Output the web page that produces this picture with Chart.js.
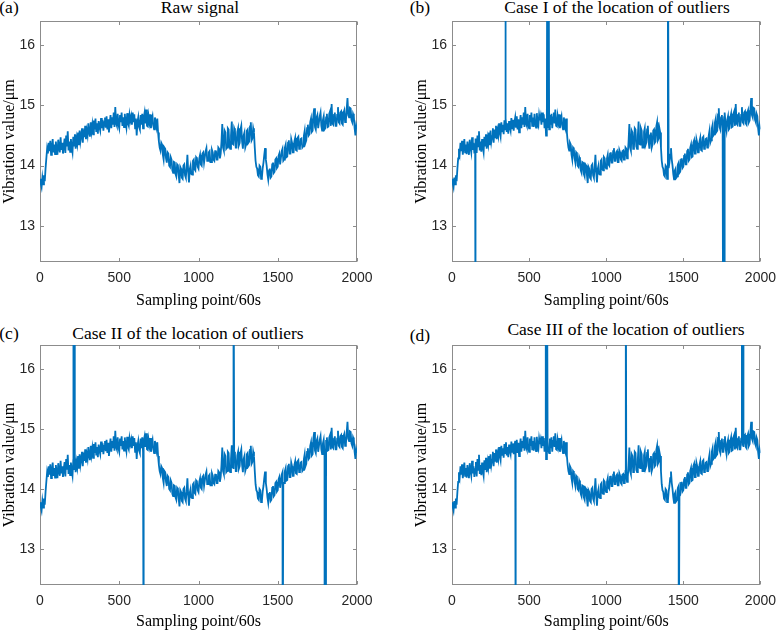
<!DOCTYPE html>
<html>
<head>
<meta charset="utf-8">
<script src="https://cdn.jsdelivr.net/npm/chart.js@4.4.1/dist/chart.umd.min.js"></script>
<style>
body{margin:0;background:#fff;width:784px;height:631px;position:relative;overflow:hidden;font-family:"Liberation Serif","Times New Roman",serif;}
.lbl{position:absolute;font-size:17.5px;color:#000;white-space:nowrap;transform:translate(-50%,-50%);line-height:1}
canvas{position:absolute}
</style>
</head>
<body>
<div class="lbl" style="left:9px;top:8px">(a)</div>
<div class="lbl" style="left:200px;top:8px">Raw signal</div>
<div class="lbl" style="left:420px;top:8px">(b)</div>
<div class="lbl" style="left:617px;top:8px">Case I of the location of outliers</div>
<div class="lbl" style="left:9px;top:334px">(c)</div>
<div class="lbl" style="left:188px;top:334px">Case II of the location of outliers</div>
<div class="lbl" style="left:420px;top:336px">(d)</div>
<div class="lbl" style="left:626px;top:330px">Case III of the location of outliers</div>

<canvas id="chartA" width="392" height="315" style="left:0;top:0"></canvas>
<canvas id="chartB" width="372" height="315" style="left:412px;top:0"></canvas>
<canvas id="chartC" width="392" height="316" style="left:0;top:315px"></canvas>
<canvas id="chartD" width="372" height="316" style="left:412px;top:315px"></canvas>

<script>
// vibration signal, one reading every 5 samples (0 ... 2000)
const sampleStep = 5;
const vibration = [
  13.78, 13.70, 13.64, 13.80, 13.69, 13.84, 13.74, 13.95, 14.12, 14.28,
  14.20, 14.38, 14.24, 14.41, 14.18, 14.30, 14.44, 14.22, 14.35, 14.19,
  14.40, 14.27, 14.18, 14.43, 14.30, 14.22, 14.47, 14.26, 14.38, 14.20,
  14.33, 14.45, 14.21, 14.50, 14.32, 14.57, 14.25, 14.40, 14.23, 14.44,
  14.30, 14.22, 14.48, 14.33, 14.52, 14.28, 14.45, 14.36, 14.55, 14.34,
  14.58, 14.40, 14.49, 14.62, 14.38, 14.60, 14.47, 14.66, 14.44, 14.58,
  14.50, 14.70, 14.55, 14.48, 14.72, 14.57, 14.68, 14.52, 14.75, 14.60,
  14.78, 14.56, 14.70, 14.53, 14.74, 14.64, 14.58, 14.79, 14.62, 14.76,
  14.58, 14.72, 14.80, 14.63, 14.82, 14.60, 14.77, 14.55, 14.70, 14.84,
  14.62, 14.80, 14.68, 14.88, 14.64, 14.97, 14.70, 14.66, 14.86, 14.68,
  14.62, 14.84, 14.72, 14.88, 14.66, 14.80, 14.64, 14.86, 14.71, 14.63,
  14.87, 14.70, 14.66, 14.84, 14.75, 14.82, 14.68, 14.88, 14.72, 14.85,
  14.62, 14.78, 14.50, 14.72, 14.80, 14.64, 14.60, 14.84, 14.68, 14.86,
  14.62, 14.80, 14.88, 14.70, 14.93, 14.66, 14.65, 14.82, 14.72, 14.85,
  14.62, 14.76, 14.82, 14.66, 14.60, 14.80, 14.72, 14.64, 14.78, 14.55,
  14.40, 14.30, 14.25, 14.38, 14.35, 14.18, 14.10, 14.30, 14.28, 14.12,
  14.05, 14.22, 14.20, 14.00, 13.98, 14.14, 14.10, 13.92, 13.88, 14.06,
  14.05, 13.86, 13.82, 14.02, 14.00, 13.84, 13.71, 13.98, 13.95, 13.80,
  13.78, 14.00, 14.02, 13.84, 13.80, 13.96, 14.18, 13.90, 13.72, 13.94,
  14.00, 13.86, 13.85, 14.08, 14.10, 13.94, 13.92, 14.14, 14.12, 13.98,
  13.95, 14.12, 14.18, 14.02, 14.00, 14.20, 14.22, 14.05, 14.05, 14.24,
  14.29, 14.08, 14.08, 14.22, 14.24, 14.06, 14.06, 14.26, 14.22, 14.10,
  14.08, 14.24, 14.25, 14.10, 14.10, 14.30, 14.28, 14.12, 14.20, 14.40,
  14.69, 14.30, 14.25, 14.58, 14.55, 14.28, 14.30, 14.62, 14.60, 14.32,
  14.28, 14.50, 14.73, 14.36, 14.35, 14.62, 14.58, 14.30, 14.30, 14.56,
  14.62, 14.34, 14.38, 14.60, 14.66, 14.40, 14.28, 14.50, 14.55, 14.30,
  14.35, 14.58, 14.60, 14.38, 14.40, 14.65, 14.72, 14.42, 14.45, 14.62,
  14.55, 14.30, 14.08, 13.98, 13.95, 13.84, 13.82, 14.00, 13.98, 13.78,
  13.80, 13.96, 14.05, 14.18, 14.29, 14.10, 14.00, 13.86, 13.77, 13.92,
  13.95, 13.80, 13.82, 14.02, 14.05, 13.88, 13.90, 14.10, 14.12, 13.96,
  13.98, 14.16, 14.20, 14.02, 14.02, 14.24, 14.28, 14.08, 14.10, 14.30,
  14.35, 14.14, 14.15, 14.38, 14.42, 14.20, 14.20, 14.44, 14.38, 14.22,
  14.22, 14.40, 14.46, 14.26, 14.25, 14.46, 14.48, 14.28, 14.30, 14.44,
  14.45, 14.30, 14.32, 14.50, 14.58, 14.38, 14.42, 14.62, 14.68, 14.50,
  14.52, 14.72, 14.78, 14.56, 14.58, 14.85, 14.95, 14.64, 14.60, 14.80,
  14.84, 14.62, 14.62, 14.82, 14.88, 14.66, 14.58, 14.76, 14.82, 14.60,
  14.62, 14.80, 14.86, 14.64, 14.65, 14.86, 14.90, 14.66, 15.02, 14.70,
  14.68, 14.84, 14.88, 14.66, 14.66, 14.84, 14.97, 14.72, 14.70, 14.88,
  14.90, 14.70, 14.68, 14.88, 14.92, 14.72, 14.75, 14.94, 15.12, 14.84,
  14.80, 14.96, 14.95, 14.76, 14.72, 14.86, 14.82, 14.62, 14.50, 14.66,
  14.60
];

// outliers: sample index and value (beyond the axis limits)
const caseISamples = [150, 345, 618, 626, 1400, 1758, 1766];
const caseIValues  = [10.5, 18.5, 18.5, 18.5, 18.5, 10.5, 10.5];
const caseIISamples = [211, 219, 653, 1221, 1531, 1796, 1804];
const caseIIValues  = [18.5, 18.5, 10.5, 18.5, 10.5, 10.5, 10.5];
const caseIIISamples = [411, 608, 616, 1127, 1470, 1880, 1888];
const caseIIIValues  = [10.5, 18.5, 18.5, 18.5, 10.5, 18.5, 18.5];

const xTicks = [0, 500, 1000, 1500, 2000];
const yTicks = [13, 14, 15, 16];

function buildSeries(outIdx, outVal) {
  const pts = vibration.map((v, i) => ({x: i * sampleStep, y: v}));
  outIdx.forEach((s, k) => pts.push({x: s, y: outVal[k]}));
  pts.sort((a, b) => a.x - b.x);
  return pts;
}

// box around the axes with inward tick marks (matlab style)
const boxPlugin = {
  id: 'box',
  beforeDatasetsDraw(chart) {
    const {ctx, chartArea: a, scales: {x, y}} = chart;
    const l = Math.round(a.left) + 0.5, r = Math.round(a.right) - 0.5;
    const t = Math.round(a.top) + 0.5, b = Math.round(a.bottom) - 0.5;
    ctx.save();
    ctx.strokeStyle = '#8c8c8c';
    ctx.lineWidth = 1;
    ctx.strokeRect(l, t, r - l, b - t);
    ctx.beginPath();
    xTicks.forEach(v => {
      const px = Math.round(x.getPixelForValue(v)) + 0.5;
      ctx.moveTo(px, b); ctx.lineTo(px, b - 3.5);
      ctx.moveTo(px, t); ctx.lineTo(px, t + 3.5);
    });
    yTicks.forEach(v => {
      const py = Math.round(y.getPixelForValue(v)) + 0.5;
      ctx.moveTo(l, py); ctx.lineTo(l + 3.5, py);
      ctx.moveTo(r, py); ctx.lineTo(r - 3.5, py);
    });
    ctx.stroke();
    ctx.restore();
  }
};

const tickFont = {family: '"Liberation Sans", Arial, sans-serif', size: 14};
const titleFont = {family: '"Liberation Serif", "Times New Roman", serif', size: 16};

function makeChart(id, series, pad, xHeight) {
  return new Chart(document.getElementById(id), {
    type: 'line',
    data: {
      datasets: [{
        data: series,
        borderColor: '#0072BD',
        borderWidth: 1.8,
        pointRadius: 0,
        tension: 0
      }]
    },
    options: {
      responsive: false,
      animation: false,
      layout: {padding: pad},
      plugins: {legend: {display: false}, tooltip: {enabled: false}},
      scales: {
        x: {
          type: 'linear', min: 0, max: 2000,
          afterBuildTicks: s => { s.ticks = xTicks.map(v => ({value: v})); },
          afterFit: s => { s.height = xHeight; },
          grid: {display: false, drawTicks: false},
          border: {display: false},
          ticks: {font: tickFont, color: '#262626', padding: 8, maxRotation: 0, autoSkip: false,
                  callback: v => String(v)},
          title: {display: true, text: 'Sampling point/60s', font: titleFont, color: '#000', padding: 0}
        },
        y: {
          type: 'linear', min: 12.4, max: 16.4,
          afterBuildTicks: s => { s.ticks = yTicks.map(v => ({value: v})); },
          afterFit: s => { s.width = 40; },
          grid: {display: false, drawTicks: false},
          border: {display: false},
          ticks: {font: tickFont, color: '#262626', padding: 5, callback: v => String(v)},
          title: {display: true, text: 'Vibration value/μm', font: titleFont, color: '#000', padding: 0}
        }
      }
    },
    plugins: [boxPlugin]
  });
}

makeChart('chartA', buildSeries([], []), {top: 21, right: 35, bottom: 5, left: 0}, 48);
makeChart('chartB', buildSeries(caseISamples, caseIValues), {top: 21, right: 16, bottom: 5, left: 0}, 48);
makeChart('chartC', buildSeries(caseIISamples, caseIIValues), {top: 30, right: 35, bottom: 0, left: 0}, 46);
makeChart('chartD', buildSeries(caseIIISamples, caseIIIValues), {top: 30, right: 16, bottom: 0, left: 0}, 46);
</script>
</body>
</html>
